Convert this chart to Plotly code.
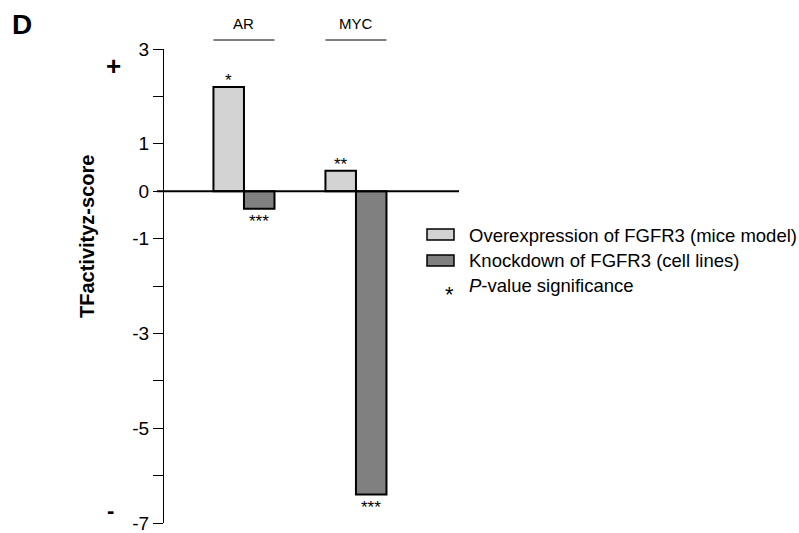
import plotly.graph_objects as go

categories = ["AR", "MYC"]
overexpression = [2.2, 0.43]
knockdown = [-0.37, -6.4]
over_sig = ["*", "**"]
knock_sig = ["***", "***"]
series_names = ["Overexpression of FGFR3 (mice model)", "Knockdown of FGFR3 (cell lines)"]
tick_vals = [-7, -6, -5, -4, -3, -2, -1, 0, 1, 2, 3]
tick_text = ["-7", "", "-5", "", "-3", "", "-1", "0", "1", "", "3"]

LIGHT = "#d3d3d3"
DARK = "#808080"
SANS = "Liberation Sans, Arial, sans-serif"
NARROW = "Liberation Sans Narrow, Liberation Sans, sans-serif"

W, H = 799, 533
DY = 4  # whole layout lifted a few px so the bottom tick label stays inside the page
L, R, T, B = 164, 340, 53 - DY, 6 + DY
PW, PH = W - L - R, H - T - B

def px(x):
    return (x - L) / PW

def py(y):
    return (H - B - (y - DY)) / PH

def txt(x, y, text, size, **kw):
    d = dict(x=px(x), xref="paper", y=py(y), yref="paper", text=text, showarrow=False,
             xanchor="center", yanchor="middle",
             font=dict(family=SANS, size=size, color="black"))
    d.update(kw)
    return d

fig = go.Figure()
fig.add_trace(go.Bar(x=categories, y=overexpression, name=series_names[0],
                     marker=dict(color=LIGHT, line=dict(color="black", width=2)),
                     showlegend=False))
fig.add_trace(go.Bar(x=categories, y=knockdown, name=series_names[1],
                     marker=dict(color=DARK, line=dict(color="black", width=2)),
                     showlegend=False))

bargap = 0.455
half = (1 - bargap) / 2

shapes = []
annotations = []

# zero line
shapes.append(dict(type="line", xref="paper", yref="y", x0=px(157), x1=1, y0=0, y1=0,
                   line=dict(color="black", width=2)))

for i, c in enumerate(categories):
    shapes.append(dict(type="line", xref="x", yref="paper", x0=i - half, x1=i + half,
                       y0=py(44), y1=py(44), line=dict(color="black", width=1)))
    annotations.append(dict(x=c, xref="x", y=py(27), yref="paper", text=c, showarrow=False,
                            xanchor="center", yanchor="middle",
                            font=dict(family=SANS, size=15, color="black")))
    # significance markers
    annotations.append(dict(x=c, xref="x", xshift=-15,
                            y=overexpression[i], yref="y", yanchor="bottom", yshift=-5,
                            xanchor="center",
                            text=over_sig[i], showarrow=False,
                            font=dict(family=SANS, size=17, color="black")))
    annotations.append(dict(x=c, xref="x", xshift=15,
                            y=knockdown[i], yref="y", yanchor="top", yshift=-1,
                            xanchor="center",
                            text=knock_sig[i], showarrow=False,
                            font=dict(family=SANS, size=17, color="black")))

# legend (manual)
for (y0, y1, col, name, ty) in [(233, 244, LIGHT, series_names[0], 239),
                                (259, 270, DARK, series_names[1], 264)]:
    shapes.append(dict(type="rect", xref="paper", yref="paper", x0=px(427), x1=px(454),
                       y0=py(y1), y1=py(y0), fillcolor=col, line=dict(color="black", width=1.5)))
    annotations.append(txt(467, ty, name, 18.5, xanchor="left"))
annotations.append(txt(449, 298, "*", 22))
annotations.append(txt(467, 289, "<i>P</i>-value significance", 18.5, xanchor="left"))

# panel letter, signs, y title
annotations.append(txt(22, 28, "<b>D</b>", 28))
annotations.append(txt(113, 70, "<b>+</b>", 26))
annotations.append(txt(110, 514, "<b>-</b>", 22))
annotations.append(txt(87, 241, "<b>TFactivityz-score</b>", 20, textangle=-90))

fig.update_layout(
    width=W, height=H,
    margin=dict(l=L, r=R, t=T, b=B),
    paper_bgcolor="white", plot_bgcolor="white",
    barmode="group", bargap=bargap, bargroupgap=0,
    xaxis=dict(range=[-0.714, 1.92], showticklabels=False, ticks="", showline=False,
               showgrid=False, zeroline=False, automargin=False),
    yaxis=dict(range=[-7, 3], tickvals=tick_vals, ticktext=tick_text, ticks="outside",
               ticklen=10, tickcolor="black", tickwidth=1, showline=True, linecolor="black",
               linewidth=1, showgrid=False, zeroline=False, ticklabeloverflow="allow",
               automargin=False,
               tickfont=dict(family=NARROW, size=19, color="black")),
    shapes=shapes, annotations=annotations,
)

fig.write_html("out.html")
